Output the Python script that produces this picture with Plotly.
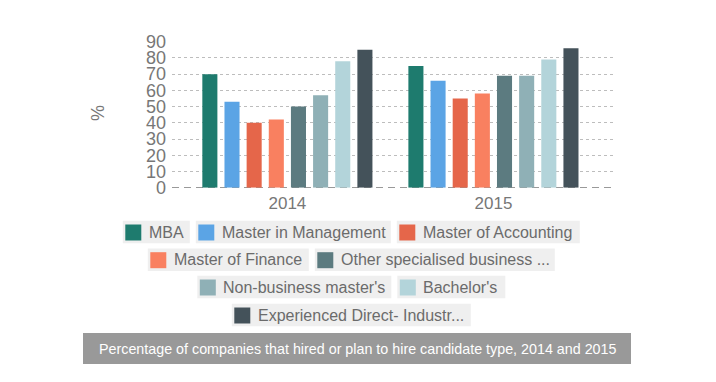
import plotly.graph_objects as go

W, H = 716, 382

# ---- data ----
years = ["2014", "2015"]
series_names = ["MBA", "Master in Management", "Master of Accounting", "Master of Finance",
                "Other specialised business ...", "Non-business master's", "Bachelor's",
                "Experienced Direct- Industr..."]
mba = [70, 75]
mim = [53, 66]
macc = [40, 55]
mfin = [42, 58]
other_spec = [50, 69]
non_business = [57, 69]
bachelors = [78, 79]
experienced = [85, 86]
series_values = [mba, mim, macc, mfin, other_spec, non_business, bachelors, experienced]
y_ticks = [0, 10, 20, 30, 40, 50, 60, 70, 80, 90]
title_text = "Percentage of companies that hired or plan to hire candidate type, 2014 and 2015"

# ---- styles ----
colors = ["#1e7b6e", "#5ba4e5", "#e5664a", "#f98060", "#5c7b80", "#8fb0b6", "#b3d4da", "#44525a"]
legend_rows = [[0, 1, 2], [3, 4], [5, 6], [7]]
legend_box_w = [67, 195, 183, 161, 240, 194, 108, 239]
legend_row_y = [232, 259.7, 287, 315]

def px(x):
    return x / W

def py(y):
    return 1 - y / H

fig = go.Figure()
for name, vals, col in zip(series_names, series_values, colors):
    fig.add_trace(go.Bar(x=years, y=vals, name=name, marker=dict(color=col, line=dict(width=0))))

plot_l, plot_r, plot_t, plot_b = 172, 615, 41.7, 187.7
fig.update_layout(
    width=W, height=H,
    margin=dict(l=0, r=0, t=0, b=0, pad=0, autoexpand=False),
    paper_bgcolor="white", plot_bgcolor="white",
    barmode="group", bargap=0.14, bargroupgap=0.32,
    showlegend=False,
    font=dict(family="Liberation Sans, Arial, sans-serif", color="#777777"),
    xaxis=dict(domain=[px(plot_l), px(plot_r)], type="category", range=[-0.56, 1.59],
               showgrid=False, zeroline=False, showline=False, ticks="", automargin=False,
               ticklabelstandoff=3,
               tickfont=dict(size=17, color="#777777")),
    yaxis=dict(domain=[py(plot_b), py(plot_t)], range=[0, 90], tickvals=y_ticks,
               showgrid=True, gridcolor="#bdbdbd", griddash="3px,3px", gridwidth=1,
               zeroline=False, showline=False, ticks="", automargin=False,
               ticklabelstandoff=5,
               tickfont=dict(size=18, color="#777777")),
)

shapes = []
annotations = []

# zero line (dashed)
shapes.append(dict(type="line", xref="paper", yref="y", x0=px(plot_l), x1=px(plot_r), y0=0, y1=0,
                   line=dict(color="#777777", width=1.5, dash="7px,5px"), layer="between"))

# y-axis title
annotations.append(dict(text="%", xref="paper", yref="paper", x=px(98), y=py(113),
                        showarrow=False, textangle=-90, font=dict(size=18, color="#777777"),
                        xanchor="center", yanchor="middle"))

# custom legend
gap = 6
center_x = 351.3
box_h = 22.5
for row, yc in zip(legend_rows, legend_row_y):
    total = sum(legend_box_w[i] for i in row) + gap * (len(row) - 1)
    x = center_x - total / 2
    for i in row:
        w = legend_box_w[i]
        shapes.append(dict(type="rect", xref="paper", yref="paper",
                           x0=px(x), x1=px(x + w), y0=py(yc + box_h / 2), y1=py(yc - box_h / 2),
                           fillcolor="#efefef", line=dict(width=0), layer="above"))
        shapes.append(dict(type="rect", xref="paper", yref="paper",
                           x0=px(x + 2.5), x1=px(x + 18.5), y0=py(yc + 8.5), y1=py(yc - 7.5),
                           fillcolor=colors[i], line=dict(width=0), layer="above"))
        annotations.append(dict(text=series_names[i], xref="paper", yref="paper",
                                x=px(x + 24), y=py(yc), xanchor="left", yanchor="middle",
                                showarrow=False, font=dict(size=16, color="#6b6b6b")))
        x += w + gap

# title bar
shapes.append(dict(type="rect", xref="paper", yref="paper", x0=px(83), x1=px(631),
                   y0=py(364), y1=py(333), fillcolor="#999999", line=dict(width=0), layer="above"))
annotations.append(dict(text=title_text, xref="paper", yref="paper", x=px(357), y=py(348.5),
                        xanchor="center", yanchor="middle", showarrow=False,
                        font=dict(size=14.3, color="white")))

fig.update_layout(shapes=shapes, annotations=annotations)
fig.write_html("out.html", config={"displayModeBar": False},
               post_script="document.body.style.margin='0';document.body.style.overflow='hidden';")
